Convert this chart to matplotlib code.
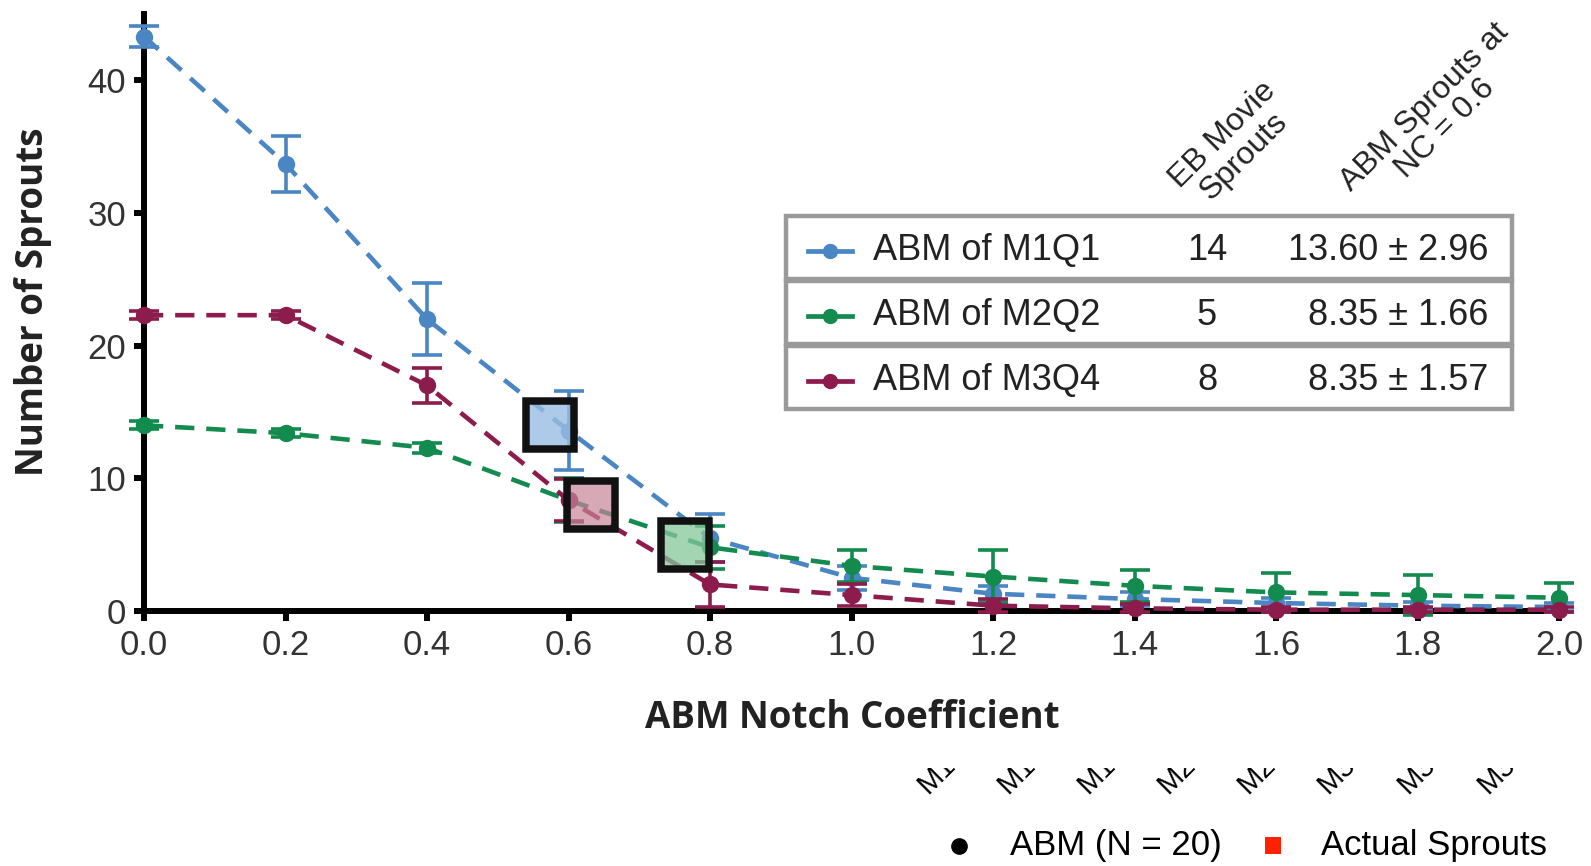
import matplotlib
matplotlib.use("Agg")
import matplotlib.pyplot as plt
from matplotlib.patches import Rectangle
from matplotlib.lines import Line2D
import numpy as np

# ABM sprout counts vs notch coefficient (mean and error)
notch_coef = [0.0, 0.2, 0.4, 0.6, 0.8, 1.0, 1.2, 1.4, 1.6, 1.8, 2.0]
m1q1_mean = [43.3, 33.7, 22.0, 13.6, 5.5, 2.5, 1.3, 0.9, 0.6, 0.4, 0.3]
m1q1_err = [0.8, 2.1, 2.7, 2.96, 1.8, 0.9, 0.6, 0.5, 0.4, 0.3, 0.3]
m2q2_mean = [14.0, 13.4, 12.3, 8.35, 4.8, 3.4, 2.6, 1.9, 1.4, 1.2, 1.0]
m2q2_err = [0.3, 0.3, 0.4, 1.66, 1.6, 1.2, 2.0, 1.2, 1.5, 1.5, 1.1]
m3q4_mean = [22.3, 22.3, 17.0, 8.35, 2.0, 1.2, 0.4, 0.2, 0.1, 0.1, 0.1]
m3q4_err = [0.3, 0.3, 1.3, 1.57, 1.7, 0.8, 0.5, 0.3, 0.2, 0.2, 0.2]

# actual sprouts counted in the EB movies (jittered around NC = 0.6)
series_names = ["ABM of M1Q1", "ABM of M2Q2", "ABM of M3Q4"]
movie_sprouts = [14, 5, 8]
movie_x = [0.574, 0.765, 0.632]
abm_at_06 = ["13.60 \u00b1 2.96", "8.35 \u00b1 1.66", "8.35 \u00b1 1.57"]

line_colors = ["#4a86c4", "#138a4e", "#8c1c4c"]
square_fill = [(0.60, 0.74, 0.89, 0.8), (0.52, 0.78, 0.60, 0.75), (0.78, 0.52, 0.60, 0.7)]

bottom_labels = ["M1Q1", "M1Q2", "M1Q3", "M2Q1", "M2Q2", "M3Q2", "M3Q3", "M3Q4"]

W, H = 1591, 866
fig = plt.figure(figsize=(W / 100, H / 100), dpi=100)
ax = fig.add_axes([144 / W, 1 - 611 / H, (1559 - 144) / W, (611 - 14) / H])

means = [m1q1_mean, m2q2_mean, m3q4_mean]
errs = [m1q1_err, m2q2_err, m3q4_err]
for k, (m, e, c) in enumerate(zip(means, errs, line_colors)):
    ax.errorbar(notch_coef, m, yerr=e, color=c, lw=3.3, dashes=(4.2, 2.6),
                marker="o", ms=11.5, capsize=11, capthick=2.6, elinewidth=2.6,
                clip_on=False, zorder=4 + k * 0.1)

for k in range(3):
    ax.plot(movie_x[k], movie_sprouts[k], marker="s", ms=35, mew=5.4,
            mec="#111111", mfc=square_fill[k], ls="none", zorder=6, clip_on=False)

ax.set_xlim(0, 2.0)
ax.set_ylim(0, 45)
ax.set_xticks(np.arange(0, 2.01, 0.2))
ax.set_xticklabels([f"{v:.1f}" for v in np.arange(0, 2.01, 0.2)])
ax.set_yticks([0, 10, 20, 30, 40])
for side in ["top", "right"]:
    ax.spines[side].set_visible(False)
for side in ["left", "bottom"]:
    ax.spines[side].set_linewidth(4.3)
    ax.spines[side].set_zorder(3)
ax.tick_params(width=4.3, length=7, labelsize=25, labelcolor="#333333", pad=6)
for lab in ax.get_xticklabels() + ax.get_yticklabels():
    lab.set_family("Liberation Sans")

fig.text(852 / W, 1 - 718 / H, "ABM Notch Coefficient", ha="center", va="center",
         fontsize=26.5, fontweight="bold", family="Open Sans", color="#222222")
fig.text(33 / W, 1 - 302 / H, "Number of Sprouts", ha="center", va="center",
         rotation=90, fontsize=26.5, fontweight="bold", family="Open Sans", color="#222222")

# summary table
narrow = ["Liberation Sans Narrow", "Liberation Sans"]
box_l, box_r = 786, 1512
row_tops = [216, 281, 346]
row_h = 63
for k in range(3):
    y0 = row_tops[k]
    fig.patches.append(Rectangle((box_l / W, 1 - (y0 + row_h) / H), (box_r - box_l) / W, row_h / H,
                                 transform=fig.transFigure, fill=False, ec="#9a9a9a", lw=3.2))
    yc = 1 - (y0 + row_h / 2 + 3) / H
    fig.lines.append(Line2D([808 / W, 852 / W], [yc, yc], transform=fig.transFigure,
                            color=line_colors[k], lw=3.4))
    fig.lines.append(Line2D([830 / W], [yc], transform=fig.transFigure, marker="o", ms=10,
                            color=line_colors[k]))
    fig.text(873 / W, yc, series_names[k], ha="left", va="center", fontsize=26,
             family=narrow, color="#222222")
    fig.text(1207 / W, yc, str(movie_sprouts[k]), ha="center", va="center", fontsize=26,
             family=narrow, color="#222222")
    fig.text(1488 / W, yc, abm_at_06[k], ha="right", va="center", fontsize=26,
             family=narrow, color="#222222")

fig.text(1233 / W, 1 - 146 / H, "EB Movie\nSprouts", ha="center", va="center", rotation=45,
         fontsize=23, family=narrow, color="#222222", linespacing=1.0)
fig.text(1435 / W, 1 - 118 / H, "ABM Sprouts at\nNC = 0.6", ha="center", va="center", rotation=45,
         fontsize=23, family=narrow, color="#222222", linespacing=1.0)

# cut-off category labels under the plot
clip = Rectangle((0, 0), 1, 1 - 768 / H, transform=fig.transFigure, visible=False)
fig.patches.append(clip)
for k, lab in enumerate(bottom_labels):
    t = fig.text((928 + 80 * k) / W, 1 - 794 / H, lab, ha="left", va="baseline", rotation=45,
                 rotation_mode="anchor", fontsize=21, family=narrow, color="black")
    t.set_clip_path(clip)

# key for marker types
fig.lines.append(Line2D([959 / W], [1 - 846 / H], transform=fig.transFigure, marker="o",
                        ms=11, color="black"))
fig.text(1010 / W, 1 - 846 / H, "ABM (N = 20)", ha="left", va="center", fontsize=25,
         family=narrow, color="black")
fig.patches.append(Rectangle((1265 / W, 1 - 854 / H), 16 / W, 17 / H, transform=fig.transFigure,
                             color="#ff2200", lw=0))
fig.text(1321 / W, 1 - 846 / H, "Actual Sprouts", ha="left", va="center", fontsize=25,
         family=narrow, color="black")

fig.savefig("out.png", dpi=100)
